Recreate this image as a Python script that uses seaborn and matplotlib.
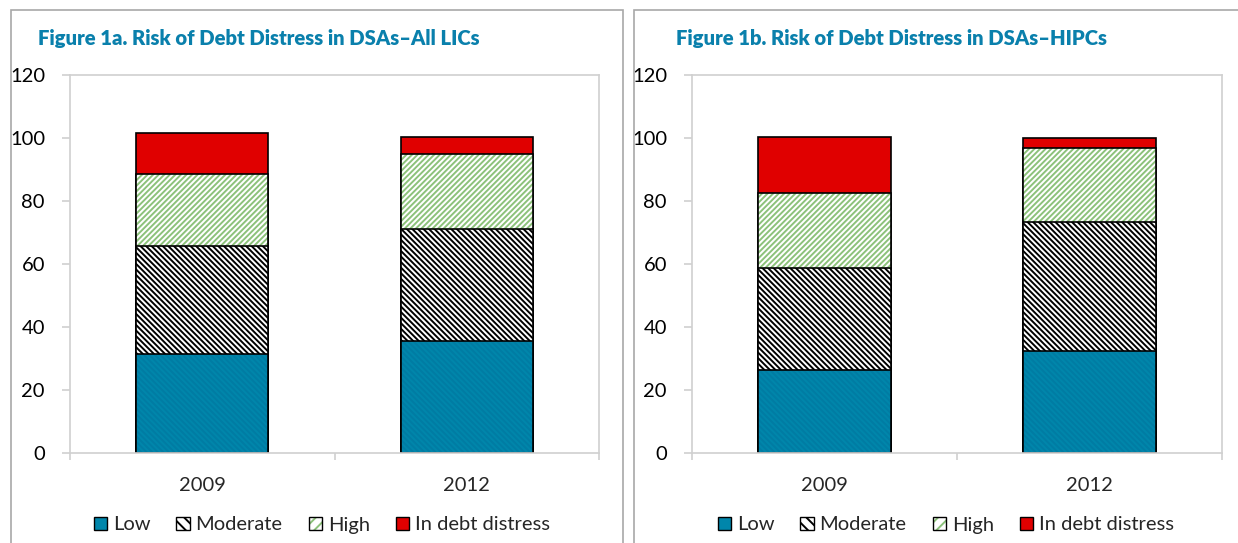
import matplotlib.pyplot as plt
import matplotlib.patches as mpatches
import matplotlib.colors as mcolors
import seaborn as sns

# Data (percent of DSAs)
years = ['2009', '2012']
lics_low = [31.3, 35.6]
lics_moderate = [34.4, 35.4]
lics_high = [22.8, 24.0]
lics_distress = [13.2, 5.2]

hipc_low = [26.3, 32.5]
hipc_moderate = [32.5, 40.9]
hipc_high = [23.6, 23.5]
hipc_distress = [17.8, 3.1]

categories = ['Low', 'Moderate', 'High', 'In debt distress']
titles = ['Figure 1a. Risk of Debt Distress in DSAs\u2013All LICs',
          'Figure 1b. Risk of Debt Distress in DSAs\u2013HIPCs']

sns.set_style('white')
plt.rcParams['font.family'] = ['Lato', 'DejaVu Sans']
plt.rcParams['hatch.linewidth'] = 1.4

TEAL = '#0086AB'
RED = '#E00000'
GREEN = '#8CC27A'
GRID = '#D0D0D0'
TITLE = '#0A80AC'

# style per layer: facecolor, hatch, hatch colour
styles = {
    'Low': (TEAL, '\\\\\\\\\\\\', '#007CA3'),
    'Moderate': ('white', '\\\\\\\\\\\\', 'black'),
    'High': ('white', '//////', GREEN),
    'In debt distress': (RED, '', 'black'),
}
legend_hatch = {'Low': '', 'Moderate': '\\\\\\', 'High': '///', 'In debt distress': ''}

fig = plt.figure(figsize=(12.38, 5.43), dpi=100)

# panel frames
for x0, w in [(11, 612), (634, 700)]:
    fig.patches.append(mpatches.Rectangle((x0 / 1238, -0.2), w / 1238, 1.2 - 10 / 543,
                                          transform=fig.transFigure, fill=False,
                                          edgecolor='#A8A8A8', linewidth=1.2))


def draw_panel(ax, series, title, title_x, legend_x):
    cum = []
    run = [0.0, 0.0]
    for s in series:
        run = [a + b for a, b in zip(run, s)]
        cum.append(run)
    # draw from the top layer down so each lower layer sits above
    for name, vals in reversed(list(zip(categories, cum))):
        face, hatch, hcol = styles[name]
        n0 = len(ax.patches)
        sns.barplot(x=years, y=vals, color=face, saturation=1, width=0.5,
                    edgecolor='black', linewidth=1.2, hatch=hatch, ax=ax)
        for p in ax.patches[n0:]:
            p.set_facecolor(face)
            p._hatch_color = mcolors.to_rgba(hcol)

    ax.set_ylim(0, 120)
    ax.set_xlim(-0.5, 1.5)
    ax.set_yticks(range(0, 121, 20))
    for sp in ax.spines.values():
        sp.set_visible(True)
        sp.set_color(GRID)
        sp.set_linewidth(1.2)
    ax.tick_params(axis='y', which='major', left=True, length=6, width=1.2, color=GRID,
                   direction='out', pad=12, labelsize=14.5, labelcolor='black')
    ax.set_xticks([0, 1])
    ax.set_xticks([-0.5, 0.5, 1.5], minor=True)
    ax.tick_params(axis='x', which='major', length=0, pad=17, labelsize=14.5)
    ax.tick_params(axis='x', which='minor', bottom=True, length=5, width=1.2, color=GRID,
                   direction='out')
    ax.set_xlabel('')
    ax.set_ylabel('')

    fig.text(title_x / 1238, 1 - 38 / 543, title, fontsize=14.6, fontweight='heavy',
             color=TITLE, ha='left', va='center')

    handles = []
    for name in categories:
        face, hatch, hcol = styles[name]
        h = mpatches.Patch(facecolor=face, edgecolor='black', hatch=legend_hatch[name],
                           linewidth=1.0, label=name)
        handles.append(h)
    leg = fig.legend(handles=handles, loc='center', ncol=4, frameon=False,
                     bbox_to_anchor=(legend_x / 1238, 1 - 525 / 543), fontsize=14.5,
                     handlelength=0.65, handleheight=0.65, handletextpad=0.3,
                     columnspacing=1.3)
    for p, name in zip(leg.get_patches(), categories):
        p._hatch_color = mcolors.to_rgba(styles[name][2])


ax1 = fig.add_axes([70 / 1238, 1 - 453 / 543, 529 / 1238, 378 / 543])
ax2 = fig.add_axes([692 / 1238, 1 - 453 / 543, 530 / 1238, 378 / 543])

draw_panel(ax1, [lics_low, lics_moderate, lics_high, lics_distress], titles[0], 38, 322)
draw_panel(ax2, [hipc_low, hipc_moderate, hipc_high, hipc_distress], titles[1], 676, 946)

fig.savefig('out.png', dpi=100)
